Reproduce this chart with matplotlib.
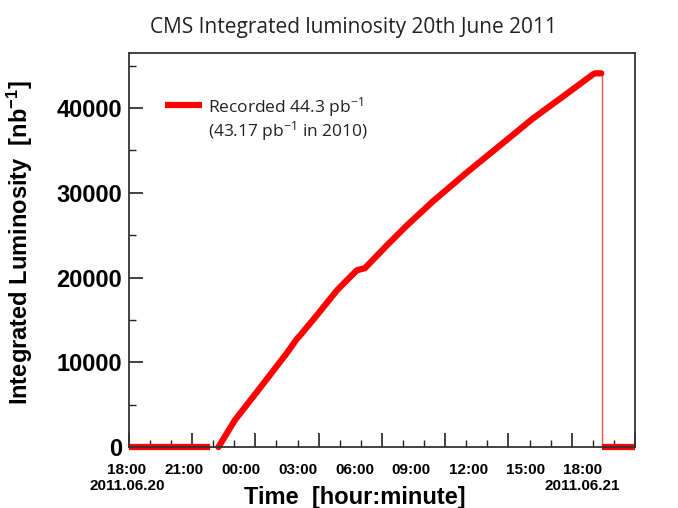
"""CMS integrated luminosity for the fill of 20th June 2011."""

import matplotlib

matplotlib.use("Agg")

import matplotlib.pyplot as plt
from matplotlib.ticker import MultipleLocator

# Hours since 18:00 on 2011.06.20, luminosity in nb^-1
idle_hours = [0.0, 3.84]
idle_lumi = [0, 0]

fill_hours = [4.25, 5.03, 5.88, 6.69, 7.49, 7.98, 8.08, 8.92, 9.87, 10.81, 11.19,
              12.24, 13.19, 14.42, 16.03, 17.60, 19.16, 20.78, 21.72, 21.96, 22.10, 22.40]
fill_lumi = [0, 3180, 5890, 8490, 11080, 12800, 13050, 15560, 18500, 20860, 21100,
             23810, 26160, 29000, 32410, 35590, 38770, 41720, 43450, 43900, 44100, 44100]

dump_hours = [22.44, 22.44]
dump_lumi = [44100, 0]

after_hours = [22.44, 24.0]
after_lumi = [0, 0]

tick_labels = ["18:00", "21:00", "00:00", "03:00", "06:00",
               "09:00", "12:00", "15:00", "18:00"]

RED = "#ff0000"
BOLD = "Liberation Sans"
SOFT = "Open Sans"

plt.rcParams["mathtext.default"] = "regular"

fig = plt.figure(figsize=(6.78, 5.08), dpi=100, facecolor="white")
ax = fig.add_axes([0.190, 0.120, 0.7466, 0.7757])

ax.plot(idle_hours, idle_lumi, color=RED, lw=4.5, solid_capstyle="butt", clip_on=False)
ax.plot(fill_hours, fill_lumi, color=RED, lw=4.5, solid_capstyle="round",
        solid_joinstyle="round", clip_on=False)
ax.plot(dump_hours, dump_lumi, color=RED, lw=1.0, alpha=0.7, clip_on=False)
ax.plot(after_hours, after_lumi, color=RED, lw=4.5, solid_capstyle="butt", clip_on=False)

ax.set_xlim(0, 24)
ax.set_ylim(0, 46500)

ax.xaxis.set_major_locator(MultipleLocator(3))
ax.xaxis.set_minor_locator(MultipleLocator(1))
ax.yaxis.set_major_locator(MultipleLocator(10000))
ax.yaxis.set_minor_locator(MultipleLocator(5000))

ax.tick_params(which="both", direction="in", top=False, right=False, color="#222222")
ax.tick_params(which="major", length=10, width=1.2)
ax.tick_params(which="minor", length=5, width=1.0)
ax.tick_params(axis="x", labelbottom=False)
ax.tick_params(axis="y", pad=5, labelsize=17)
for lab in ax.get_yticklabels():
    lab.set_fontfamily(BOLD)
    lab.set_fontweight("bold")

for side in ax.spines.values():
    side.set_linewidth(1.3)
    side.set_color("#333333")

# ROOT drew the time labels slightly compressed relative to the tick marks
for i, lab in enumerate(tick_labels):
    xf = (-2 + 56.9 * i) / 506
    ax.text(xf, -0.058, lab, transform=ax.transAxes, ha="center", va="center",
            fontsize=11, fontweight="bold", family=BOLD)

ax.text(-0.004, -0.1, "2011.06.20", transform=ax.transAxes, ha="center", va="center",
        fontsize=11, fontweight="bold", family=BOLD)
ax.text(0.895, -0.1, "2011.06.21", transform=ax.transAxes, ha="center", va="center",
        fontsize=11, fontweight="bold", family=BOLD)

ax.text(0.447, -0.127, "Time  [hour:minute]", transform=ax.transAxes, ha="center",
        va="center", fontsize=17, fontweight="bold", family=BOLD)

ax.set_ylabel("Integrated Luminosity  [nb$^{-1}$]", fontsize=17, fontweight="bold",
              family=BOLD)
ax.yaxis.set_label_coords(-0.185, 0.52)

# legend drawn by hand, ROOT style
ax.plot([0.071, 0.144], [0.868, 0.868], transform=ax.transAxes, color=RED, lw=4.5,
        solid_capstyle="butt")
ax.text(0.156, 0.864, "Recorded 44.3 pb$^{-1}$", transform=ax.transAxes, va="center",
        fontsize=12.5, family=SOFT, color="#222222")
ax.text(0.156, 0.802, "(43.17 pb$^{-1}$ in 2010)", transform=ax.transAxes, va="center",
        fontsize=12.5, family=SOFT, color="#222222")

fig.text(0.522, 0.945, "CMS Integrated luminosity 20th June 2011", ha="center",
         va="center", fontsize=15, family=SOFT, color="#222222")

fig.savefig("out.png", dpi=100, facecolor="white")
